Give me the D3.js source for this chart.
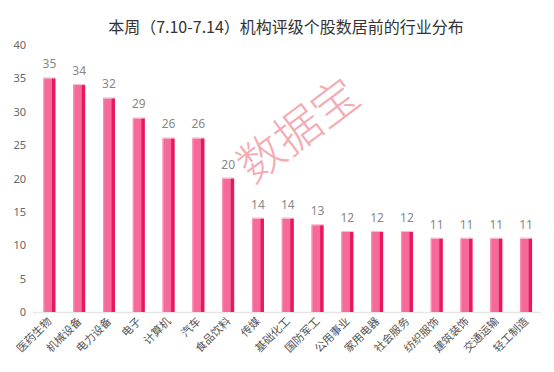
<!DOCTYPE html>
<html><head><meta charset="utf-8">
<script src="https://cdn.jsdelivr.net/npm/d3@7"></script>
<style>body{margin:0;background:#fff;}svg{display:block;font-family:"Noto Sans CJK SC","Noto Sans",sans-serif;}</style>
</head><body><svg id="c" width="554" height="372"></svg>
<script>
const categories = ["医药生物","机械设备","电力设备","电子","计算机","汽车","食品饮料","传媒","基础化工","国防军工","公用事业","家用电器","社会服务","纺织服饰","建筑装饰","交通运输","轻工制造"];
const values = [35,34,32,29,26,26,20,14,14,13,12,12,12,11,11,11,11];
const yTicks = [0,5,10,15,20,25,30,35,40];
const title = "本周（7.10-7.14）机构评级个股数居前的行业分布";
const watermark = "数据宝";

const svg = d3.select("#c");
const x = d3.scaleBand().domain(categories).range([34.5, 541]).paddingInner(0.6).paddingOuter(0.3);
const y = d3.scaleLinear().domain([0,40]).range([312,45]);

svg.append("text").attr("x",286).attr("y",33).attr("text-anchor","middle")
  .attr("font-size",16).attr("fill","#333").text(title);

// y axis labels
const ya = svg.append("g").attr("transform","translate(26,0)")
  .call(d3.axisLeft(y).tickValues(yTicks).tickSize(0).tickPadding(0));
ya.select(".domain").remove();
ya.selectAll("text").attr("font-size",11).attr("fill","#666").attr("font-family","'Noto Sans',sans-serif");

// baseline
svg.append("line").attr("x1",33).attr("x2",541).attr("y1",312.5).attr("y2",312.5)
  .attr("stroke","#e6e6e6").attr("stroke-width",1.5);

// watermark
svg.append("text").attr("transform","translate(298,130) rotate(-37)")
  .attr("text-anchor","middle").attr("dy","0.36em").attr("font-size",46).attr("font-weight",300)
  .attr("fill","#f3a3ab").attr("opacity",0.9)
  .text(watermark);

const bw = x.bandwidth();
const g = svg.append("g");
g.selectAll("rect.l").data(values).join("rect").attr("class","l")
  .attr("x",(d,i)=>x(categories[i])).attr("y",d=>y(d))
  .attr("width",bw).attr("height",d=>y(0)-y(d)).attr("fill","#f6699a");
g.selectAll("rect.e").data(values).join("rect").attr("class","e")
  .attr("x",(d,i)=>x(categories[i])).attr("y",d=>y(d))
  .attr("width",1.2).attr("height",d=>y(0)-y(d)).attr("fill","#fa90b3");
g.selectAll("rect.r").data(values).join("rect").attr("class","r")
  .attr("x",(d,i)=>x(categories[i])+bw*0.72).attr("y",d=>y(d))
  .attr("width",bw*0.28).attr("height",d=>y(0)-y(d)).attr("fill","#e8185d");
g.selectAll("rect.t").data(values).join("rect").attr("class","t")
  .attr("x",(d,i)=>x(categories[i])).attr("y",d=>y(d)-1)
  .attr("width",bw).attr("height",1).attr("fill","#fbb6cb");

g.selectAll("text.v").data(values).join("text").attr("class","v")
  .attr("x",(d,i)=>x(categories[i])+bw/2).attr("y",d=>y(d)-10)
  .attr("text-anchor","middle").attr("font-size",12).attr("fill","#888")
  .attr("font-family","'Noto Sans',sans-serif").text(d=>d);

// x labels
g.selectAll("text.c").data(categories).join("text").attr("class","c")
  .attr("transform",d=>`translate(${x(d)+bw/2+3},${322}) rotate(-45)`)
  .attr("text-anchor","end").attr("font-size",11).attr("fill","#555").text(d=>d);
</script></body></html>
